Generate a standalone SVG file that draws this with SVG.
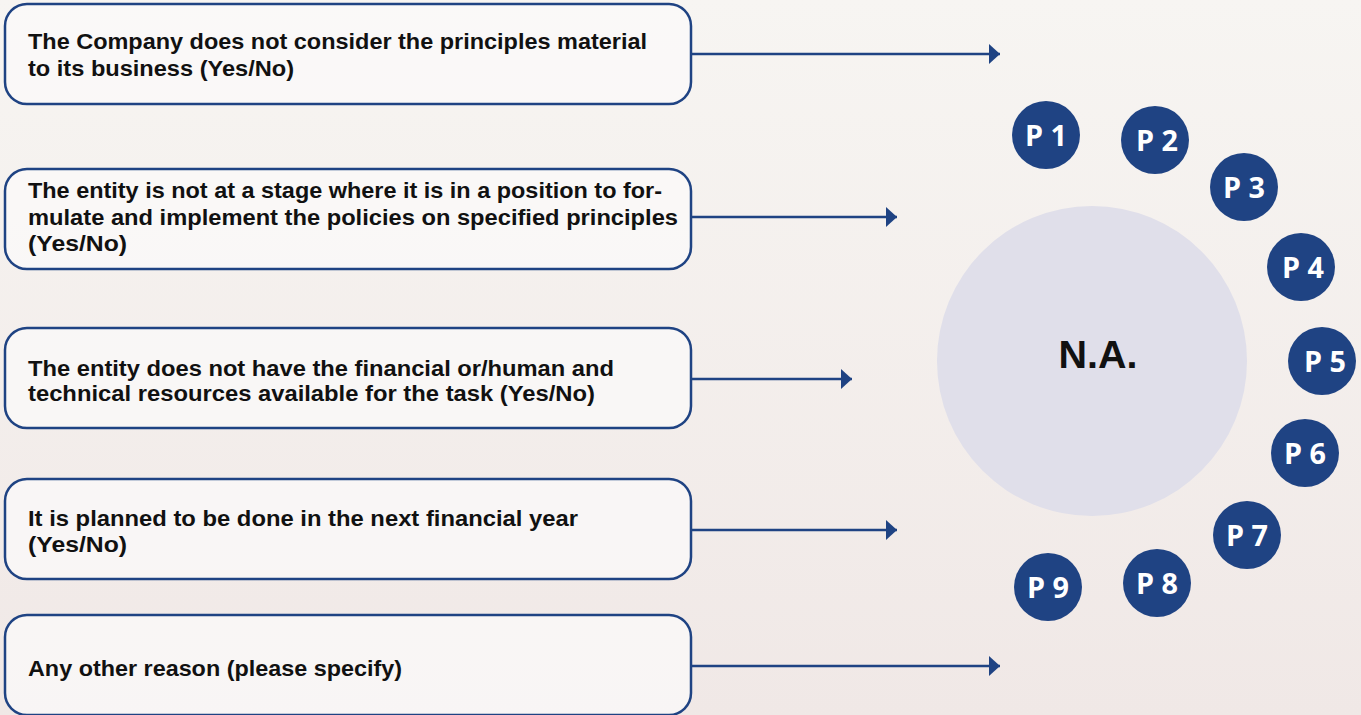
<svg xmlns="http://www.w3.org/2000/svg" width="1361" height="715" viewBox="0 0 1361 715">
<defs>
<linearGradient id="bg" x1="0" y1="0" x2="0" y2="1">
<stop offset="0" stop-color="#f7f5f2"/>
<stop offset="1" stop-color="#f0e8e6"/>
</linearGradient>
<marker id="ah" viewBox="0 0 11 20" refX="11" refY="10" markerWidth="11" markerHeight="20" markerUnits="userSpaceOnUse" orient="auto">
<path d="M0,0 L11,10 L0,20 Z" fill="#1f4383"/>
</marker>
<style>
.box{fill:#fbfaf9;fill-opacity:0.75;stroke:#1f4383;stroke-width:2.5}
.t{font-family:"Liberation Sans",Arial,sans-serif;font-weight:bold;font-size:22px;fill:#111}
.conn{stroke:#1f4383;stroke-width:2.5;fill:none;marker-end:url(#ah)}
.pc{fill:#1f4383}
.pt{font-family:"Open Sans","DejaVu Sans",sans-serif;font-weight:bold;font-size:29px;fill:#fff;text-anchor:middle}
</style>
</defs>
<rect width="1361" height="715" fill="url(#bg)"/>
<g id="connectors">
<line class="conn" x1="691" y1="54" x2="1000" y2="54"/>
<line class="conn" x1="691" y1="217" x2="897" y2="217"/>
<line class="conn" x1="691" y1="379" x2="852" y2="379"/>
<line class="conn" x1="691" y1="530" x2="897" y2="530"/>
<line class="conn" x1="691" y1="666" x2="1000" y2="666"/>
</g>
<g id="box1">
<rect class="box" x="5" y="4" width="686" height="100" rx="22"/>
<text class="t" x="28" y="49" textLength="619" lengthAdjust="spacingAndGlyphs">The Company does not consider the principles material</text>
<text class="t" x="28" y="76" textLength="266" lengthAdjust="spacingAndGlyphs">to its business (Yes/No)</text>
</g>
<g id="box2">
<rect class="box" x="5" y="169" width="686" height="100" rx="22"/>
<text class="t" x="28" y="198" textLength="634" lengthAdjust="spacingAndGlyphs">The entity is not at a stage where it is in a position to for-</text>
<text class="t" x="28" y="225" textLength="650" lengthAdjust="spacingAndGlyphs">mulate and implement the policies on specified principles</text>
<text class="t" x="28" y="251" textLength="99" lengthAdjust="spacingAndGlyphs">(Yes/No)</text>
</g>
<g id="box3">
<rect class="box" x="5" y="328" width="686" height="100" rx="22"/>
<text class="t" x="28" y="376" textLength="586" lengthAdjust="spacingAndGlyphs">The entity does not have the financial or/human and</text>
<text class="t" x="28" y="401" textLength="567" lengthAdjust="spacingAndGlyphs">technical resources available for the task (Yes/No)</text>
</g>
<g id="box4">
<rect class="box" x="5" y="479" width="686" height="100" rx="22"/>
<text class="t" x="28" y="526" textLength="550" lengthAdjust="spacingAndGlyphs">It is planned to be done in the next financial year</text>
<text class="t" x="28" y="552" textLength="99" lengthAdjust="spacingAndGlyphs">(Yes/No)</text>
</g>
<g id="box5">
<rect class="box" x="5" y="615" width="686" height="100" rx="22"/>
<text class="t" x="28" y="676" textLength="374" lengthAdjust="spacingAndGlyphs">Any other reason (please specify)</text>
</g>
<g id="na">
<circle cx="1092" cy="361" r="155" fill="#e0dfea"/>
<text x="1098" y="368" font-family="Liberation Sans,Arial,sans-serif" font-weight="bold" font-size="38" fill="#111" text-anchor="middle" textLength="79" lengthAdjust="spacingAndGlyphs">N.A.</text>
</g>
<g id="p1"><circle class="pc" cx="1046" cy="135" r="34"/><text class="pt" x="1046" y="146" textLength="42" lengthAdjust="spacingAndGlyphs">P 1</text></g>
<g id="p2"><circle class="pc" cx="1155" cy="140" r="34"/><text class="pt" x="1157" y="151" textLength="42" lengthAdjust="spacingAndGlyphs">P 2</text></g>
<g id="p3"><circle class="pc" cx="1244" cy="187" r="34"/><text class="pt" x="1244" y="198" textLength="42" lengthAdjust="spacingAndGlyphs">P 3</text></g>
<g id="p4"><circle class="pc" cx="1301" cy="267" r="34"/><text class="pt" x="1303" y="278" textLength="42" lengthAdjust="spacingAndGlyphs">P 4</text></g>
<g id="p5"><circle class="pc" cx="1322" cy="361" r="34"/><text class="pt" x="1325" y="372" textLength="42" lengthAdjust="spacingAndGlyphs">P 5</text></g>
<g id="p6"><circle class="pc" cx="1305" cy="453" r="34"/><text class="pt" x="1305" y="464" textLength="42" lengthAdjust="spacingAndGlyphs">P 6</text></g>
<g id="p7"><circle class="pc" cx="1247" cy="535" r="34"/><text class="pt" x="1247" y="546" textLength="42" lengthAdjust="spacingAndGlyphs">P 7</text></g>
<g id="p8"><circle class="pc" cx="1157" cy="583" r="34"/><text class="pt" x="1157" y="594" textLength="42" lengthAdjust="spacingAndGlyphs">P 8</text></g>
<g id="p9"><circle class="pc" cx="1048" cy="587" r="34"/><text class="pt" x="1048" y="598" textLength="42" lengthAdjust="spacingAndGlyphs">P 9</text></g>
</svg>
